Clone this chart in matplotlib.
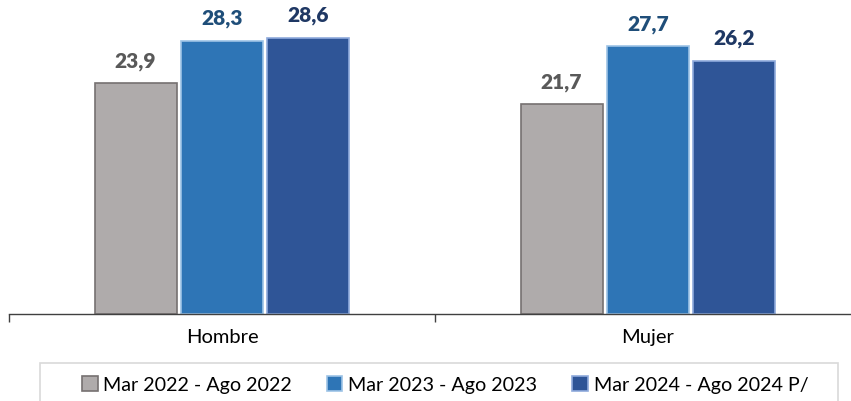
import numpy as np
import matplotlib.pyplot as plt
from matplotlib.patches import Rectangle

# --- datos ---
categorias = ["Hombre", "Mujer"]
periodos = ["Mar 2022 - Ago 2022", "Mar 2023 - Ago 2023", "Mar 2024 - Ago 2024 P/"]
valores_2022 = [23.9, 21.7]
valores_2023 = [28.3, 27.7]
valores_2024 = [28.6, 26.2]

series = [valores_2022, valores_2023, valores_2024]
colores = ["#AFABAB", "#2E75B6", "#2F5597"]
bordes = ["#767171", "#9DC3E6", "#8FAADC"]
color_etiqueta = ["#595959", "#1F4E79", "#1F3864"]

plt.rcParams['font.family'] = ['Lato', 'DejaVu Sans']

fig = plt.figure(figsize=(8.51, 4.01), dpi=100)
ax = fig.add_axes([9 / 851, 87 / 401, 852 / 851, 314 / 401])

x = np.arange(len(categorias))
ancho = 0.1925
paso = 0.203

barras = []
for i, vals in enumerate(series):
    b = ax.bar(x + (i - 1) * paso, vals, width=ancho, color=colores[i],
               edgecolor=bordes[i], linewidth=1.2, label=periodos[i], zorder=2)
    barras.append(b)
    for rect, v in zip(b, vals):
        ax.annotate(f"{v:.1f}".replace(".", ","),
                    (rect.get_x() + rect.get_width() / 2, rect.get_height()),
                    xytext=(0, 9), textcoords="offset points",
                    ha="center", va="bottom", fontsize=15, fontweight="heavy",
                    color=color_etiqueta[i])

ax.set_xlim(-0.5, 1.5)
ax.set_ylim(0, 32.5)
ax.set_yticks([])
for s in ["top", "left", "right"]:
    ax.spines[s].set_visible(False)
ax.spines["bottom"].set_color("#404040")
ax.spines["bottom"].set_linewidth(1.0)

ax.set_xticks(x)
ax.set_xticklabels(categorias, fontsize=14.5, color="#000000")
ax.tick_params(axis="x", which="major", length=0, pad=11)
ax.set_xticks([-0.5, 0.5, 1.5], minor=True)
ax.tick_params(axis="x", which="minor", length=6, color="#404040", width=1.0)

# caja de la leyenda (se corta en el borde inferior, como en el original)
fig.patches.append(Rectangle((40 / 851, -0.05), 798 / 851, (401 - 363) / 401 + 0.05,
                             transform=fig.transFigure, fill=False,
                             edgecolor="#D9D9D9", linewidth=1.2))

leg = fig.legend(handles=barras, labels=periodos, loc="center",
                 bbox_to_anchor=(445 / 851, 1 - 385 / 401), ncol=3,
                 fontsize=14.2, frameon=False,
                 handlelength=0.8, handleheight=0.8, handletextpad=0.3,
                 columnspacing=1.75, borderpad=0, borderaxespad=0)

fig.savefig("out.png", dpi=100)
